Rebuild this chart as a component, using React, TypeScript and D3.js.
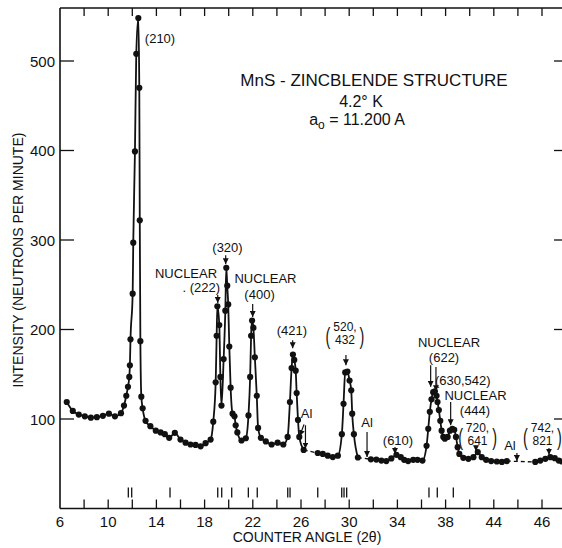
import React from "react";
import * as d3 from "d3";

// ---- data ----
const angles = [
  6.56, 7.06, 7.56, 8.06, 8.56, 9.06, 9.56, 10.06, 10.56, 11.06, 11.31, 11.5, 11.64, 11.75, 11.8, 11.85,
  12.03, 12.08, 12.22, 12.33, 12.5, 12.58, 12.62, 12.67, 12.75, 12.86, 13.1, 13.5, 13.95, 14.35, 14.7,
  15.06, 15.53, 16.0, 16.42, 16.83, 17.25, 17.67, 18.08, 18.5, 18.72, 18.92, 19.0, 19.06, 19.22, 19.31,
  19.4, 19.58, 19.72, 19.8, 19.88, 19.96, 20.05, 20.16, 20.32, 20.48, 20.58, 20.72, 21.06, 21.42, 21.64,
  21.78, 21.86, 21.94, 22.05, 22.17, 22.33, 22.44, 22.67, 23.08, 23.56, 24.06, 24.53, 24.89, 25.08, 25.22,
  25.33, 25.44, 25.56, 25.64, 25.75, 25.86, 26.22, 27.39, 27.81, 28.22, 28.64, 29.06, 29.39, 29.53, 29.67,
  29.85, 30.03, 30.17, 30.25, 30.39, 30.72, 31.8, 32.25, 32.67, 33.08, 33.5, 33.92, 34.28, 34.56, 34.89,
  35.31, 35.67, 36.08, 36.42, 36.56, 36.69, 36.83, 36.97, 37.11, 37.25, 37.33, 37.44, 37.56, 37.67, 37.81,
  37.94, 38.17, 38.36, 38.56, 38.72, 38.86, 39.0, 39.14, 39.47, 39.89, 40.31, 40.67, 41.0, 41.36, 41.78,
  42.25, 42.67, 43.08, 45.44, 45.86, 46.28, 46.69, 47.06, 47.39, 47.67,
];
const counts = [
  119, 109, 105, 103, 101.5, 102, 103.5, 106, 103, 106.5, 115, 126, 136, 147, 160, 189,
  240, 297, 399, 508, 548, 470, 322, 187, 125, 112, 98, 92, 87, 85, 83,
  79, 84.5, 77, 73.5, 71.5, 71, 69.5, 73, 77, 97, 141, 193, 226, 205, 147,
  115, 167, 221, 269, 249, 228, 181, 135, 106, 103, 93, 85, 76, 78.5, 104,
  147, 193, 210, 202, 169, 126, 90, 79, 75, 71.5, 73.5, 71.5, 80, 119, 157,
  172, 166, 154, 129, 99, 80, 65.5, 62, 61, 59, 57.5, 59, 83, 117, 152,
  153, 143, 132, 106, 83, 57, 55, 54.7, 53.6, 53, 56, 60, 57.3, 54.4, 53,
  54.4, 54.4, 53.6, 70, 89, 108, 122, 130, 131, 126, 119, 110, 98, 87, 80,
  78, 80, 87, 89, 88, 80, 68.5, 61, 56.6, 55.5, 57.3, 63, 57.3, 54.4, 53,
  52.5, 52, 53, 52, 53.6, 55.5, 57.3, 56.2, 53.6, 52.5,
];
const dashedRanges = [
  [26.22, 27.39],
  [30.72, 31.8],
  [43.08, 45.44],
];
const yTicks = [100, 200, 300, 400, 500];
const xTickValues = [6, 10, 14, 18, 22, 26, 30, 34, 38, 42, 46];
const xTickLabels = ["6", "10", "14", "18", "22", "26", "30", "34", "38", "44", "46"];
const xMinorTicks = [8, 10, 12, 14, 16, 18, 20, 22, 24, 26, 28, 30, 32, 34, 36, 38, 40, 42, 44, 46];
const reflections = [
  11.67, 11.95, 15.13, 19.09, 19.42, 20.25, 21.63, 22.37, 24.9, 25.09, 27.39, 29.38, 29.57, 29.79,
  36.62, 37.31, 38.64,
];

// single-line labels: [text, angle, intensity(baseline)]
const labels: [string, number, number][] = [
  ["(210)", 14.3, 520],
  ["(320)", 19.9, 286.6],
  ["NUCLEAR", 16.46, 257.5],
  ["NUCLEAR", 23.05, 252],
  ["(400)", 22.56, 234],
  ["(421)", 25.25, 194],
  ["NUCLEAR", 38.28, 180.4],
  ["(622)", 37.87, 163.7],
  ["NUCLEAR", 40.48, 121],
  ["(444)", 40.44, 104.5],
  ["(610)", 34.05, 71],
  ["Al", 26.46, 101],
  ["Al", 31.48, 91],
  ["Al", 43.34, 65],
];
// two-line labels in tall parentheses: [line1, line2, angle, intensity of line1 baseline]
const pairLabels: [string, string, number, number][] = [
  ["520,", "432", 29.65, 197],
  ["720,", "641", 40.65, 84.4],
  ["742,", "821", 46.04, 84.4],
];
// arrows: [angle1, intensity1, angle2, intensity2]
const arrows: [number, number, number, number][] = [
  [19.75, 283, 19.75, 273],
  [19.09, 238.5, 19.09, 229.6],
  [21.99, 228.5, 21.99, 214],
  [25.31, 188, 25.31, 179],
  [29.73, 171.5, 29.73, 160],
  [36.76, 160, 36.76, 136],
  [37.2, 158, 37.2, 131],
  [38.42, 119, 38.42, 93],
  [40.52, 70, 40.52, 64],
  [33.8, 68.7, 33.8, 61],
  [46.58, 67.6, 46.58, 60],
  [26.37, 93, 26.37, 67],
  [26.25, 94, 25.9, 81],
  [31.48, 85.5, 31.48, 57.5],
  [43.92, 62, 43.92, 53],
];

const W = 562;
const H = 548;
const FONT = "'Liberation Sans', Arial, sans-serif";

export default function App() {
  const x = d3.scaleLinear().domain([6, 46]).range([60, 542]);
  const y = d3.scaleLinear().domain([0, 500]).range([508.5, 61]);
  const left = 60, bottom = 508.5, top = 8, right = 567;

  const pts = angles.map((a, i) => [a, counts[i]] as [number, number]);
  const isDashed = (a0: number, a1: number) =>
    dashedRanges.some(([s, e]) => a0 >= s - 1e-6 && a1 <= e + 1e-6);
  const runs: { dashed: boolean; p: [number, number][] }[] = [];
  for (let i = 0; i < pts.length - 1; i++) {
    const d = isDashed(pts[i][0], pts[i + 1][0]);
    const last = runs[runs.length - 1];
    if (last && last.dashed === d) last.p.push(pts[i + 1]);
    else runs.push({ dashed: d, p: [pts[i], pts[i + 1]] });
  }
  const line = d3
    .line<[number, number]>()
    .x((d) => x(d[0]))
    .y((d) => y(d[1]))
    .curve(d3.curveMonotoneX);

  const paren = (ch: string, cx: number, by: number, key: string) => (
    <text key={key} x={0} y={0} fontSize={24} fontFamily={FONT} textAnchor="middle" fill="#111"
      transform={`translate(${cx},${by}) scale(0.6,1)`}>{ch}</text>
  );

  return (
    <svg width={W} height={H} style={{ position: "absolute", left: 0, top: 0, background: "#fff" }}>
      <defs>
        <marker id="ah" viewBox="0 0 10 10" refX="10" refY="5" markerWidth="6" markerHeight="6"
          markerUnits="userSpaceOnUse" orient="auto">
          <path d="M0,0 L10,5 L0,10 z" fill="#111" />
        </marker>
      </defs>
      <rect x={0} y={0} width={W} height={H} fill="#fff" />
      {/* frame */}
      <line x1={left} y1={top} x2={left} y2={bottom} stroke="#111" strokeWidth={1.6} />
      <line x1={left} y1={bottom} x2={W} y2={bottom} stroke="#111" strokeWidth={1.6} />
      <line x1={left} y1={top} x2={W} y2={top} stroke="#111" strokeWidth={1.4} />
      {/* x ticks bottom and top */}
      {xMinorTicks.map((t) => (
        <g key={"xt" + t}>
          <line x1={x(t)} x2={x(t)} y1={bottom} y2={bottom - 9} stroke="#111" strokeWidth={1.3} />
          <line x1={x(t)} x2={x(t)} y1={top} y2={top + 8} stroke="#111" strokeWidth={1.3} />
        </g>
      ))}
      {xTickValues.map((t, i) => (
        <text key={"xl" + t} x={x(t)} y={527} fontSize={15} fontFamily={FONT} textAnchor="middle" fill="#111">
          {xTickLabels[i]}
        </text>
      ))}
      {/* y ticks */}
      {yTicks.map((t) => (
        <g key={"yt" + t}>
          <line x1={left} x2={left + 14} y1={y(t)} y2={y(t)} stroke="#111" strokeWidth={1.3} />
          <line x1={right} x2={right - 13} y1={y(t)} y2={y(t)} stroke="#111" strokeWidth={1.3} />
          <text x={55} y={y(t) + 5.5} fontSize={15} fontFamily={FONT} textAnchor="end" fill="#111">
            {t}
          </text>
        </g>
      ))}
      {/* reflection markers */}
      {reflections.map((r, i) => (
        <line key={"rf" + i} x1={x(r)} x2={x(r)} y1={bottom - 21} y2={bottom - 11} stroke="#111" strokeWidth={1.3} />
      ))}
      {/* axis titles */}
      <text x={307} y={542} fontSize={14} fontFamily={FONT} textAnchor="middle" fill="#111">
        COUNTER ANGLE (2θ)
      </text>
      <text transform="translate(23,260) rotate(-90)" fontSize={14} fontFamily={FONT} textAnchor="middle" fill="#111">
        INTENSITY (NEUTRONS PER MINUTE)
      </text>
      {/* curve */}
      {runs.map((r, i) => (
        <path key={"run" + i} d={line(r.p) || ""} fill="none" stroke="#111"
          strokeWidth={r.dashed ? 1.3 : 1.8} strokeDasharray={r.dashed ? "4,3" : undefined} />
      ))}
      {pts.map((p, i) => (
        <circle key={"pt" + i} cx={x(p[0])} cy={y(p[1])} r={3.1} fill="#111" />
      ))}
      {/* title */}
      <text x={x(32.06)} y={y(472)} fontSize={17} fontFamily={FONT} textAnchor="middle" fill="#111">
        MnS - ZINCBLENDE STRUCTURE
      </text>
      <text x={x(30.98)} y={y(448.6)} fontSize={16} fontFamily={FONT} textAnchor="middle" fill="#111">
        4.2° K
      </text>
      <text x={x(30.65)} y={y(428)} fontSize={16} fontFamily={FONT} textAnchor="middle" fill="#111">
        a<tspan fontSize={12} dy={4}>o</tspan><tspan dy={-4}> = 11.200  A</tspan>
      </text>
      {/* labels */}
      {labels.map(([t, a, v], i) => (
        <text key={"lb" + i} x={x(a)} y={y(v)} fontSize={13} fontFamily={FONT} textAnchor="middle" fill="#111">
          {t}
        </text>
      ))}
      <text x={x(19.28)} y={y(242)} fontSize={13} fontFamily={FONT} textAnchor="end" fill="#111">
        . (222)
      </text>
      <text x={x(37.12)} y={y(138)} fontSize={13} fontFamily={FONT} textAnchor="start" fill="#111">
        (630,542)
      </text>
      {pairLabels.map(([l1, l2, a, v], i) => (
        <g key={"pl" + i}>
          <text x={x(a)} y={y(v) - 1} fontSize={12} fontFamily={FONT} textAnchor="middle" fill="#111">{l1}</text>
          <text x={x(a)} y={y(v) + 12} fontSize={12} fontFamily={FONT} textAnchor="middle" fill="#111">{l2}</text>
          {paren("(", x(a) - 17, y(v) + 12, "lp" + i)}
          {paren(")", x(a) + 17, y(v) + 12, "rp" + i)}
        </g>
      ))}
      {arrows.map(([a1, v1, a2, v2], i) => (
        <line key={"ar" + i} x1={x(a1)} y1={y(v1)} x2={x(a2)} y2={y(v2)} stroke="#111" strokeWidth={1.2}
          markerEnd="url(#ah)" />
      ))}
    </svg>
  );
}
